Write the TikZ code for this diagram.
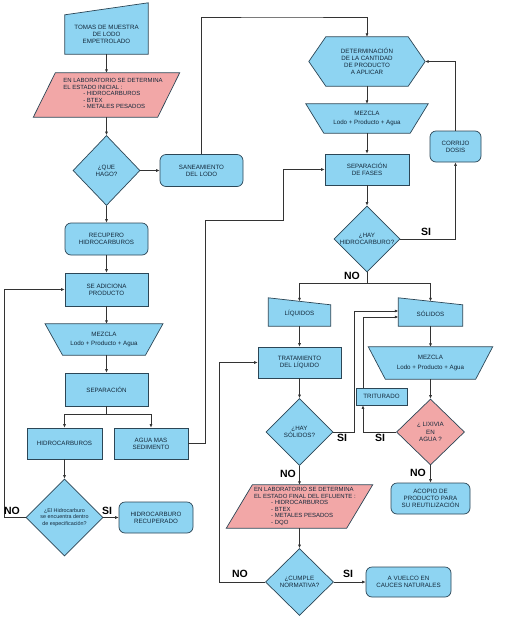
\documentclass[tikz,border=0pt]{standalone}
\usepackage{fontspec}
\setmainfont{Liberation Sans}
\usetikzlibrary{shapes.geometric,arrows.meta,backgrounds,calc}
\definecolor{bluef}{HTML}{8ED4F2}
\definecolor{pinkf}{HTML}{F2A7A7}
\definecolor{bordc}{HTML}{2C4656}
\definecolor{txtc}{HTML}{13283A}
\definecolor{linec}{HTML}{333333}
\newcommand\fsm{\fontsize{6.2}{7.2}\selectfont}
\newcommand\fsp{\fontsize{6}{6.5}\selectfont}
\newcommand\fss{\fontsize{5.4}{6.3}\selectfont}
\newcommand\fsl{\fontsize{10.5}{12}\selectfont\bfseries}
\begin{document}
\begin{tikzpicture}[x=1pt,y=-1pt,
  txt/.style={text=txtc, font=\fsm, align=center, inner sep=0pt},
  rbox/.style={txt, draw=bordc, line width=0.7pt, fill=bluef, rectangle},
  rnd/.style={rbox, rounded corners=6pt},
  dia/.style={txt, draw=bordc, line width=0.7pt, fill=bluef, diamond, aspect=1},
  pinkdia/.style={dia, fill=pinkf},
  poly/.style={draw=bordc, line width=0.7pt, fill=bluef, line join=miter},
  ppoly/.style={poly, fill=pinkf},
  conn/.style={draw=linec, line width=0.6pt},
  arr/.style={conn, -{Latex[length=3.5pt,width=3pt]}},
  lab/.style={font=\fsl, text=black, inner sep=0pt}]
\useasboundingbox (0,0) rectangle (508,619);

% ---------- left column ----------
\node[txt, minimum width=83pt, minimum height=39pt] (tomas) at (106.5,34.5) {TOMAS DE MUESTRA\\DE LODO\\EMPETROLADO};
\node[txt, minimum width=124pt, minimum height=44pt] (lab1) at (106.5,95) {};
\node[txt, font=\fsp] (lab1t) at (113,94.5) {\begin{tabular}{@{}l@{}}EN LABORATORIO SE DETERMINA\\EL ESTADO INICIAL :\\\hspace{20pt}- HIDROCARBUROS\\\hspace{20pt}- BTEX\\\hspace{20pt}- METALES PESADOS\end{tabular}};
\node[dia, minimum width=67pt, minimum height=70pt] (que) at (106.5,170.5) {¿QUE\\HAGO?};
\node[rnd, minimum width=83pt, minimum height=32pt] (san) at (201.5,170.5) {SANEAMIENTO\\DEL LODO};
\node[rnd, minimum width=83pt, minimum height=32pt] (rec) at (106.5,239) {RECUPERO\\HIDROCARBUROS};
\node[rbox, minimum width=83pt, minimum height=33pt] (sead) at (106.5,289.5) {SE ADICIONA\\PRODUCTO};
\node[txt, minimum width=100pt, minimum height=31pt] (mz0) at (104,339.5) {MEZCLA\\[2.5pt]Lodo + Producto + Agua};
\node[rbox, minimum width=83pt, minimum height=33pt] (sep) at (106.5,389.5) {SEPARACIÓN};
\node[rbox, minimum width=75pt, minimum height=31pt] (hcb) at (64.5,443.5) {HIDROCARBUROS};
\node[rbox, minimum width=74pt, minimum height=31pt] (agua) at (151,443.5) {AGUA MAS\\SEDIMENTO};
\node[dia, minimum width=77pt, minimum height=77pt, font=\fss] (esp) at (64.5,517.5) {¿El Hidrocarburo\\se encuentra dentro\\de especificación?};
\node[rnd, minimum width=74pt, minimum height=31pt] (hrec) at (156,517.5) {HIDROCARBURO\\RECUPERADO};

% ---------- right column ----------
\node[txt, minimum width=116pt, minimum height=49pt] (hex) at (367,61.5) {DETERMINACIÓN\\DE LA CANTIDAD\\DE PRODUCTO\\A APLICAR};
\node[txt, minimum width=104pt, minimum height=29pt] (mz1) at (367,118.5) {MEZCLA\\[2.5pt]Lodo + Producto + Agua};
\node[rbox, minimum width=84pt, minimum height=31pt] (sepf) at (367,169.5) {SEPARACIÓN\\DE FASES};
\node[rnd, minimum width=51pt, minimum height=31pt] (cor) at (455.5,146.5) {CORRIJO\\DOSIS};
\node[dia, minimum width=66pt, minimum height=66pt] (hayhc) at (367,239) {¿HAY\\HIDROCARBURO?};
\node[txt, minimum width=62pt, minimum height=24.5pt] (liq) at (299.5,313.75) {LÍQUIDOS};
\node[txt, minimum width=64pt, minimum height=24.5pt] (sol) at (430.5,313.75) {SÓLIDOS};
\node[rbox, minimum width=83pt, minimum height=31pt] (trat) at (299.5,362.5) {TRATAMIENTO\\DEL LÍQUIDO};
\node[txt, minimum width=107pt, minimum height=32pt] (mz2) at (430.5,363) {MEZCLA\\[2.5pt]Lodo + Producto + Agua};
\node[rbox, minimum width=51pt, minimum height=17pt] (trit) at (381.5,396.5) {TRITURADO};
\node[pinkdia, minimum width=68pt, minimum height=66pt] (lix) at (430.5,432) {¿ LIXIVIA\\EN\\AGUA ?};
\node[dia, minimum width=67pt, minimum height=67pt] (hays) at (299.5,432) {¿HAY\\SÓLIDOS?};
\node[rnd, minimum width=79pt, minimum height=31pt] (acop) at (430.5,498.5) {ACOPIO DE\\PRODUCTO PARA\\SU REUTILIZACIÓN};
\node[txt, minimum width=120pt, minimum height=43pt] (lab2) at (299.5,506.5) {};
\node[txt, font=\fsp] (lab2t) at (305,506.5) {\begin{tabular}{@{}l@{}}EN LABORATORIO SE DETERMINA\\EL ESTADO FINAL DEL EFLUENTE :\\\hspace{17pt}- HIDROCARBUROS\\\hspace{17pt}- BTEX\\\hspace{17pt}- METALES PESADOS\\\hspace{17pt}- DQO\end{tabular}};
\node[dia, minimum width=68pt, minimum height=67pt] (cump) at (299.5,582) {¿CUMPLE\\NORMATIVA?};
\node[rnd, minimum width=85pt, minimum height=30pt] (vuel) at (408.5,582) {A VUELCO EN\\CAUCES NATURALES};

% ---------- helper coordinates ----------
\coordinate (t1) at (280,17);
\coordinate (sp1) at (106.5,414);
\coordinate (lft) at (4,0);
\coordinate (r1) at (205,220);
\coordinate (r2) at (283,220);
\coordinate (sp2) at (367,283);
\coordinate (s1) at (354,311);
\coordinate (s2) at (363,317);
\coordinate (lp) at (219,0);

% ---------- shapes drawn behind text ----------
\begin{scope}[on background layer]
\fill[white] (0,0) rectangle (508,619);
\draw[poly] (tomas.north west) -- ([yshift=12pt]tomas.north east) -- (tomas.south east) -- (tomas.south west) -- cycle;
\draw[ppoly] ([xshift=11pt]lab1.north west) -- ([xshift=11pt]lab1.north east) -- ([xshift=-11pt]lab1.south east) -- ([xshift=-11pt]lab1.south west) -- cycle;
\draw[poly] ([xshift=-8.75pt]mz0.north west) -- ([xshift=8.75pt]mz0.north east) -- ([xshift=-8.75pt]mz0.south east) -- ([xshift=8.75pt]mz0.south west) -- cycle;
\draw[poly] (hex.west) -- ([xshift=17pt]hex.north west) -- ([xshift=-17pt]hex.north east) -- (hex.east) -- ([xshift=-17pt]hex.south east) -- ([xshift=17pt]hex.south west) -- cycle;
\draw[poly] ([xshift=-9pt]mz1.north west) -- ([xshift=9pt]mz1.north east) -- ([xshift=-9pt]mz1.south east) -- ([xshift=9pt]mz1.south west) -- cycle;
\draw[poly] ([yshift=3.5pt]liq.north west) -- ([yshift=-3.5pt]liq.north east) -- (liq.south east) -- (liq.south west) -- cycle;
\draw[poly] ([yshift=3.5pt]sol.north west) -- ([yshift=-3.5pt]sol.north east) -- (sol.south east) -- (sol.south west) -- cycle;
\draw[poly] ([xshift=-8.5pt]mz2.north west) -- ([xshift=8.5pt]mz2.north east) -- ([xshift=-8.5pt]mz2.south east) -- ([xshift=8.5pt]mz2.south west) -- cycle;
\draw[ppoly] ([xshift=13pt]lab2.north west) -- ([xshift=13pt]lab2.north east) -- ([xshift=-13pt]lab2.south east) -- ([xshift=-13pt]lab2.south west) -- cycle;
\end{scope}

% ---------- connectors ----------
\draw[arr] (tomas.south) -- (lab1.north);
\draw[arr] (lab1.south) -- (que.north);
\draw[arr] (que.east) -- (san.west);
\draw[arr] (que.south) -- (rec.north);
\draw[arr] (san.north) |- (t1) -| (hex.north);
\draw[arr] (rec.south) -- (sead.north);
\draw[arr] (sead.south) -- (sead.south |- mz0.north);
\draw[arr] (mz0.south -| sep.north) -- (sep.north);
\draw[conn] (sep.south) -- (sp1);
\draw[conn] (sp1 -| hcb.north) -- (sp1 -| agua.north);
\draw[arr] (sp1 -| hcb.north) -- (hcb.north);
\draw[arr] (sp1 -| agua.north) -- (agua.north);
\draw[arr] (hcb.south) -- (esp.north);
\draw[arr] (esp.west) -- (esp.west -| lft) |- (sead.west);
\draw[arr] (esp.east) -- (hrec.west);
\draw[arr] (agua.east) -| (r1) -- (r2) |- (sepf.west);

\draw[arr] (hex.south) -- (mz1.north);
\draw[arr] (mz1.south) -- (sepf.north);
\draw[arr] (sepf.south) -- (hayhc.north);
\draw[arr] (hayhc.east) -| (cor.south);
\draw[arr] (cor.north) |- (hex.east);
\draw[conn] (hayhc.south) -- (sp2);
\draw[conn] (sp2 -| liq.north) -- (sp2 -| sol.north);
\draw[arr] (sp2 -| liq.north) -- (liq.north);
\draw[arr] (sp2 -| sol.north) -- (sol.north);
\draw[arr] (liq.south) -- (trat.north);
\draw[arr] (trat.south) -- (hays.north);
\draw[arr] (sol.south) -- (mz2.north);
\draw[arr] (mz2.south) -- (lix.north);
\draw[arr] (hays.east) -| (s1) -- (s1 -| sol.west);
\draw[arr] (lix.west) -| (trit.south -| s2);
\draw[arr] (trit.north -| s2) -- (s2) -- (s2 -| sol.west);
\draw[arr] (lix.south) -- (acop.north);
\draw[arr] (hays.south) -- (lab2.north);
\draw[arr] (lab2.south) -- (cump.north);
\draw[arr] (cump.east) -- (vuel.west);
\draw[arr] (cump.west) -- (cump.west -| lp) |- (trat.west);

% ---------- labels ----------
\node[lab] (l1) at (12,511) {NO};
\node[lab] (l2) at (107,511) {SI};
\node[lab] (l3) at (426,232) {SI};
\node[lab] (l4) at (352,276) {NO};
\node[lab] (l5) at (342,438) {SI};
\node[lab] (l6) at (380,438) {SI};
\node[lab] (l7) at (418,473) {NO};
\node[lab] (l8) at (288,474) {NO};
\node[lab] (l9) at (240,574) {NO};
\node[lab] (l10) at (348,574) {SI};
\end{tikzpicture}
\end{document}
